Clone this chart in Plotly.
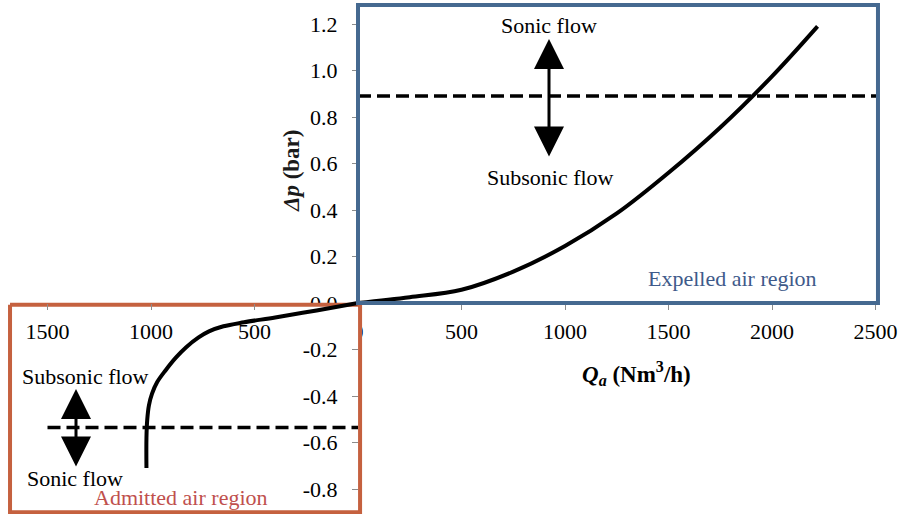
import plotly.graph_objects as go

# ---------------- data ----------------
expelled_q = [0, 250, 500, 750, 1000, 1250, 1500, 1750, 2000, 2220]
expelled_dp = [0, 0.025, 0.057, 0.135, 0.245, 0.385, 0.56, 0.755, 0.975, 1.19]

admitted_q = [0, 200, 400, 550, 650, 720, 770, 830, 880, 930, 970, 995, 1010, 1018, 1022, 1022]
admitted_dp = [0, -0.032, -0.062, -0.083, -0.100, -0.122, -0.148, -0.19, -0.235, -0.29,
               -0.34, -0.39, -0.44, -0.50, -0.58, -0.71]

sonic_dp_expelled = 0.89
sonic_dp_admitted = -0.535
sonic_line_q_expelled = [0, 2510]
sonic_line_q_admitted = [1500, 0]

x_ticks_right = [0, 500, 1000, 1500, 2000, 2500]
x_ticks_left = [1500, 1000, 500]
y_ticks_pos = [0.0, 0.2, 0.4, 0.6, 0.8, 1.0, 1.2]
y_ticks_neg = [-0.8, -0.6, -0.4, -0.2]

# ---------------- layout geometry ----------------
W, H = 905, 514
X0PX, Y0PX = 358, 303          # pixel of the origin
PX_PER_Q = 0.207               # px per Nm3/h
PX_PER_DP = 232.5              # px per bar
xmin, xmax = -X0PX / PX_PER_Q, (W - X0PX) / PX_PER_Q
ymin, ymax = -(H - Y0PX) / PX_PER_DP, Y0PX / PX_PER_DP
xpos = (0 - xmin) / (xmax - xmin)
ypos = (0 - ymin) / (ymax - ymin)

FONT = "Liberation Serif, Times New Roman, Times, DejaVu Serif, serif"
BLUE = "#456990"
ORANGE = "#C5613F"
TICKC = "#8c8c8c"

fig = go.Figure()

# white panel of the admitted-air inset (covers main axes labels)
fig.add_trace(go.Scatter(
    x=[-1681, 10, 10, -1681, -1681], y=[-0.008, -0.008, -0.9, -0.9, -0.008],
    mode="lines", fill="toself", fillcolor="white",
    line=dict(color=ORANGE, width=4), hoverinfo="skip", showlegend=False))

# expelled curve
fig.add_trace(go.Scatter(
    x=expelled_q, y=expelled_dp, mode="lines",
    line=dict(color="black", width=4, shape="spline", smoothing=1.0),
    showlegend=False))
fig.add_trace(go.Scatter(
    x=sonic_line_q_expelled, y=[sonic_dp_expelled] * 2, mode="lines",
    line=dict(color="black", width=3.5, dash="13px,6px"), showlegend=False))

# admitted curve (plotted on reversed side, x = -Q)
fig.add_trace(go.Scatter(
    x=[-q for q in admitted_q], y=admitted_dp, mode="lines",
    line=dict(color="black", width=4, shape="spline", smoothing=1.0),
    xaxis="x2", yaxis="y2", showlegend=False))
fig.add_trace(go.Scatter(
    x=[-q for q in sonic_line_q_admitted], y=[sonic_dp_admitted] * 2, mode="lines",
    line=dict(color="black", width=3.5, dash="13px,6px"),
    xaxis="x2", yaxis="y2", showlegend=False))

tickfont = dict(family=FONT, size=22, color="black")
common = dict(showgrid=False, zeroline=False, showline=False, ticks="outside",
              ticklen=6, tickwidth=1, tickcolor=TICKC, tickfont=tickfont,
              tickmode="array", fixedrange=True)

fig.update_layout(
    width=W, height=H, autosize=False,
    margin=dict(l=0, r=0, t=0, b=0),
    paper_bgcolor="white", plot_bgcolor="white",
    xaxis=dict(range=[xmin, xmax], domain=[0, 1], anchor="free", position=ypos,
               tickvals=x_ticks_right, ticktext=[str(v) for v in x_ticks_right],
               ticklabelstandoff=3, layer="below traces", **common),
    yaxis=dict(range=[ymin, ymax], domain=[0, 1], anchor="free", position=xpos,
               tickvals=y_ticks_pos, ticktext=[f"{v:.1f}" for v in y_ticks_pos],
               ticklabelstandoff=10, layer="below traces", **common),
    xaxis2=dict(range=[xmin, xmax], overlaying="x", anchor="free", position=ypos,
                tickvals=[-v for v in x_ticks_left], ticktext=[str(v) for v in x_ticks_left],
                ticklabelstandoff=3, layer="above traces", **common),
    yaxis2=dict(range=[ymin, ymax], overlaying="y", anchor="free", position=xpos,
                side="left",
                tickvals=y_ticks_neg, ticktext=[f"-{abs(v):.1f}" for v in y_ticks_neg],
                ticklabelstandoff=10, layer="above traces", **common),
    shapes=[
        dict(type="rect", xref="x", yref="y", x0=0, x1=2512, y0=0, y1=1.282,
             line=dict(color=BLUE, width=4), layer="above"),
    ],
)

def px(xp, yp):
    return (xp - X0PX) / PX_PER_Q, (Y0PX - yp) / PX_PER_DP

annos = []
def text(s, xp, yp, color="black", size=22, **kw):
    x, y = px(xp, yp)
    annos.append(dict(x=x, y=y, xref="x", yref="y", text=s, showarrow=False,
                      font=dict(family=FONT, size=size, color=color),
                      xanchor="center", yanchor="middle", **kw))

text("Sonic flow", 549, 25)
text("Subsonic flow", 550, 177)
text("Subsonic flow", 85, 376)
text("Sonic flow", 75, 478)
text("Expelled air region", 732, 278, color="#3E5A8A")
text("Admitted air region", 181, 497, color="#C0504D")
text("<b><i>Q</i></b><b><i><sub>a</sub></i> (Nm<sup>3</sup>/h)</b>", 636, 373, size=23)
text("<b><i>Δp</i> (bar)</b>", 291, 171, size=23, textangle=-90, color="#1a1a1a")

def dbl_arrow(xp, ytop, ybot):
    x, yt = px(xp, ytop)
    _, yb = px(xp, ybot)
    annos.append(dict(x=x, y=yt, ax=x, ay=yb, xref="x", yref="y", axref="x", ayref="y",
                      text="", showarrow=True, arrowhead=2, startarrowhead=2,
                      arrowside="end+start", arrowsize=2.0, startarrowsize=2.0,
                      arrowwidth=3, arrowcolor="black"))

dbl_arrow(549, 39, 158)
dbl_arrow(76, 389, 468)

fig.update_layout(annotations=annos)
fig.write_html("out.html")
